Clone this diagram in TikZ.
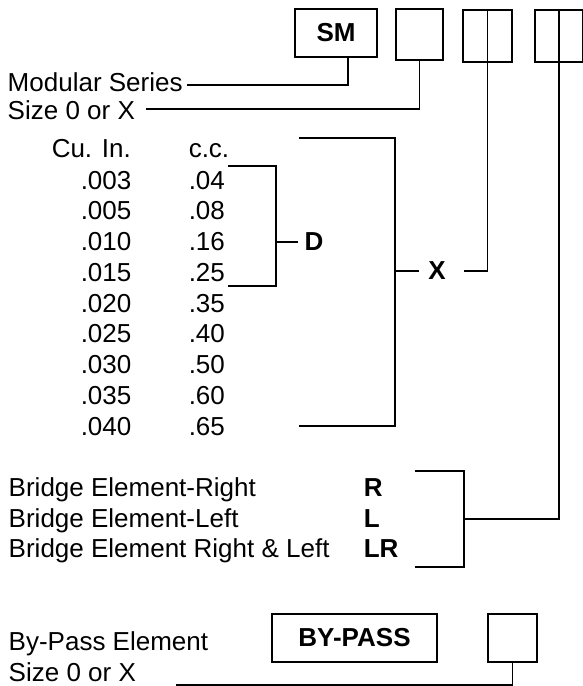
\documentclass[tikz,border=0pt]{standalone}
\usepackage{fontspec}
\setmainfont{Liberation Sans}
\usetikzlibrary{positioning}

\begin{document}
\begin{tikzpicture}[
    x=1pt, y=-1pt,
    line width=1.5pt,
    txt/.style={anchor=base west, inner sep=0pt, font=\fontsize{26}{30}\selectfont},
    code/.style={inner sep=0pt, font=\fontsize{26}{30}\selectfont\bfseries},
    slot/.style={draw, inner sep=0pt, minimum width=47pt, minimum height=50pt}
]
\useasboundingbox (0,0) rectangle (582,686);

\node[slot, code, minimum width=82pt, minimum height=48pt] (sm) at (336,33) {SM};
    \node[slot, minimum height=51pt] (sz) at (419.5,34.5) {};
    \node[slot, minimum width=49pt, minimum height=52pt] (dsp) at (487.5,36) {};
    \node[slot, minimum width=48pt, minimum height=52pt] (brg) at (559,36) {};

\node[txt] (modser) at (7,91) {Modular Series};
    \node[txt] (szlbl) at (7,119) {Size 0 or X};
    \coordinate (modend) at (187,85);
    \coordinate (szend) at (146,109);
    \draw ([xshift=12pt]sm.south) |- (modend);
    \draw (sz.south) |- (szend);

\node[txt] (cuhead) at (51,157) {Cu. In.};
    \node[txt] (cchead) at (188,157) {c.c.};
    \foreach \cu/\cc [count=\i] in {.003/.04, .005/.08, .010/.16, .015/.25, .020/.35, .025/.40, .030/.50, .035/.60, .040/.65} {
        \node[txt] (cu\i) at (80,{189+30.75*(\i-1)}) {\cu};
        \node[txt] (cc\i) at (188,{189+30.75*(\i-1)}) {\cc};
    }

\node[code] (dlbl) at (314,242) {D};
    \coordinate (dtop) at (228,166);
    \coordinate (dbot) at (228,286);
    \draw (dtop) -- ++(48,0) |- (dbot);
    \draw ([xshift=-6pt]dlbl.west) -- ++(-23,0);

\node[code] (xlbl) at (437,271) {X};
    \coordinate (xtop) at (299,138);
    \coordinate (xbot) at (299,426);
    \draw (xtop) -- ++(96,0) |- (xbot);
    \draw ([xshift=-9pt]xlbl.west) -- ++(-25,0);
    \draw (dsp.north) |- ([xshift=18pt]xlbl.east);

\node[txt] (br1) at (8,496.5) {Bridge Element-Right};
    \node[txt] (br2) at (8,527) {Bridge Element-Left};
    \node[txt] (br3) at (8,557.5) {Bridge Element Right \& Left};
    \node[code, anchor=base west] (brr) at (363,496.5) {R};
    \node[code, anchor=base west] (brl) at (363,527) {L};
    \node[code, anchor=base west] (brlr) at (363,557.5) {LR};
    \coordinate (brtop) at (415,471);
    \coordinate (brbot) at (415,567);
    \coordinate (brmid) at (464,519);
    \draw (brtop) -- ++(49,0) |- (brbot);
    \draw (brg.north) |- (brmid);

\node[txt] (bplbl) at (8,650) {By-Pass Element};
    \node[txt] (bpsz) at (8,681) {Size 0 or X};
    \node[slot, code, minimum width=165pt, minimum height=48pt] (bypass) at (354.5,638) {BY-PASS};
    \node[slot, minimum width=49pt, minimum height=48pt] (bps) at (512.5,638) {};
    \coordinate (bpend) at (176,685);
    \draw (bps.south) |- (bpend);
\end{tikzpicture}
\end{document}
